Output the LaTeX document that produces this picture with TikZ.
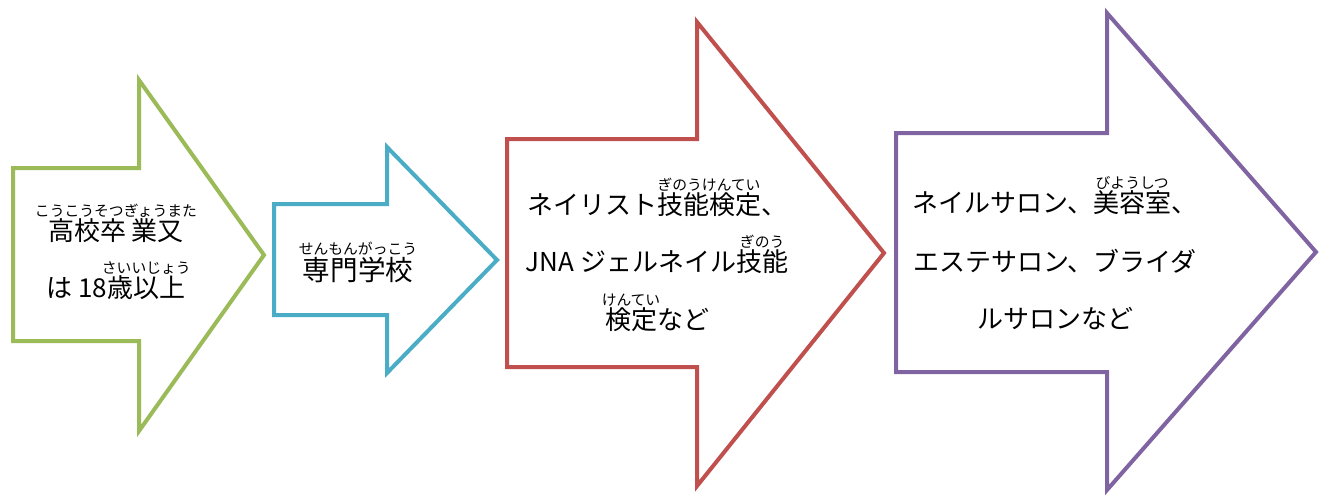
\documentclass[tikz,border=0pt]{standalone}
\usepackage{fontspec}
\newfontfamily\jp{Noto Sans CJK JP}
\newcommand\rubyfont{\jp\fontsize{7.4}{7.4}\selectfont}
% ruby over a base text
\newcommand\furi[2]{\leavevmode\setbox0=\hbox{#1}\rlap{\makebox[\wd0]{\raisebox{0.92em}{\rubyfont #2}}}\box0}
\definecolor{arrowgreen}{HTML}{9BBB59}
\definecolor{arrowblue}{HTML}{4BACC6}
\definecolor{arrowred}{HTML}{C0504D}
\definecolor{arrowpurple}{HTML}{8064A2}
\tikzset{
  jptext/.style={anchor=base,inner sep=0pt,font=\jp\fontsize{13}{13}\selectfont}
}
\begin{document}
\begin{tikzpicture}[x=0.5pt,y=-0.5pt,line width=2pt]
  \useasboundingbox (0,0) rectangle (1330,495);

  % Arrows
  \foreach \col/\l/\bt/\bb/\h/\ht/\hb/\t/\ty in {
      arrowgreen/13/168/341/139/80/431/264/255,
      arrowblue/274/204/315/387/147/373/497/260,
      arrowred/507/139/367/697/22/486/884/253,
      arrowpurple/896/133/372/1107/13/490/1316/252}
    \draw[\col] (\l,\bt) -- (\h,\bt) -- (\h,\ht) -- (\t,\ty)
      -- (\h,\hb) -- (\h,\bb) -- (\l,\bb) -- cycle;

  % High school
  \node[jptext] (koko1) at (116,240) {\furi{高校卒 業又}{こうこうそつぎょうまた}};
  \node[jptext] (koko2) at (116,297) {は 18\furi{歳以上}{さいいじょう}};

  % Vocational school
  \node[jptext,font=\jp\fontsize{13.8}{13.8}\selectfont] (senmon) at (358,280)
    {\furi{専門学校}{せんもんがっこう}};

  % Certification
  \node[jptext] (kentei1) at (657,214) {ネイリスト\furi{技能検定}{ぎのうけんてい}、};
  \node[jptext] (kentei2) at (657,271) {JNA ジェルネイル\furi{技能}{ぎのう}};
  \node[jptext] (kentei3) at (657,329) {\furi{検定}{けんてい}など};

  % Salons
  \node[jptext] (salon1) at (1055,212) {ネイルサロン、\furi{美容室}{びようしつ}、};
  \node[jptext] (salon2) at (1055,271) {エステサロン、ブライダ};
  \node[jptext] (salon3) at (1055,328) {ルサロンなど};
\end{tikzpicture}
\end{document}
